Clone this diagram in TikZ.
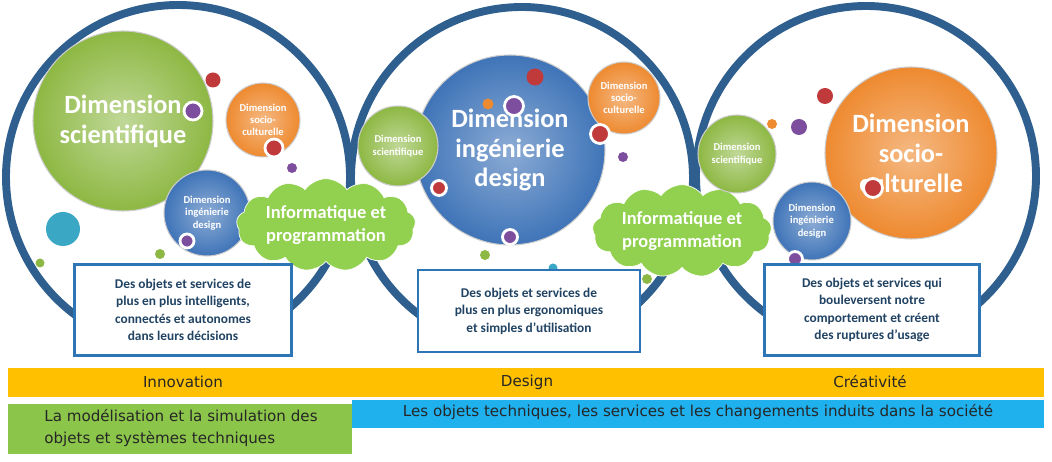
\documentclass[tikz,border=0pt]{standalone}
\usepackage{fontspec}
\setmainfont{Carlito}
\newfontfamily\barfont{DejaVu Sans}
\usetikzlibrary{shapes.symbols}
\definecolor{ringblue}{HTML}{2F5F8E}
\definecolor{cgreen}{HTML}{8DB843}
\definecolor{corange}{HTML}{EE8A30}
\definecolor{cblue}{HTML}{3F74B8}
\definecolor{cred}{HTML}{C0393B}
\definecolor{cpurple}{HTML}{7E4E9E}
\definecolor{ccyan}{HTML}{3AA7C5}
\definecolor{cloudgreen}{HTML}{92D050}
\definecolor{boxblue}{HTML}{2E75B6}
\definecolor{barYellow}{HTML}{FFC000}
\definecolor{barBlue}{HTML}{1FB0EE}
\definecolor{barGreen}{HTML}{8BC64A}
\newcommand{\px}[1]{#1*0.02cm}
\begin{document}
\begin{tikzpicture}[x=0.02cm, y=-0.02cm,
    ring/.style={draw=ringblue, line width=4.5pt},
    dim/.style={circle, inner sep=0pt, text=white, font=\bfseries, align=center, draw=white!80!black, line width=0.6pt},
    greenball/.style={dim, shade, inner color=cgreen!55!white, outer color=cgreen},
    orangeball/.style={dim, shade, inner color=corange!60!white, outer color=corange},
    blueball/.style={dim, shade, inner color=cblue!60!white, outer color=cblue},
    dot/.style={circle, inner sep=0pt, fill=#1},
    rdot/.style={circle, inner sep=0pt, fill=#1, draw=white, line width=1.6pt},
    bubble/.style={cloud, cloud puffs=13, cloud puff arc=110, aspect=2.4, fill=cloudgreen, draw=white, inner sep=1pt, text=white, font=\bfseries\fontsize{10.5}{13}\selectfont, align=center},
    card/.style={draw=boxblue, line width=1.6pt, fill=white, align=center, font=\bfseries\fontsize{7.6}{10}\selectfont, text=ringblue!70!black},
    bar/.style={inner sep=0pt, anchor=north west},
    bartext/.style={font=\barfont\fontsize{8.6}{12}\selectfont, text=black!85}]
\useasboundingbox (0,0) rectangle (1052,462);

% grands cercles
\draw[ring] (178,177) circle (172);
\draw[ring] (522,178) circle (171);
\draw[ring] (866,176) circle (170);

% cercle 1
\node[greenball, minimum size=\px{180}, font=\bfseries\fontsize{15}{17}\selectfont] (sci1) at (123,121) {Dimension\\scientifique};
\node[orangeball, minimum size=\px{74}, font=\bfseries\fontsize{6}{7}\selectfont] (soc1) at (263,120) {Dimension\\socio-\\culturelle};
\node[blueball, minimum size=\px{86}, font=\bfseries\fontsize{6}{7}\selectfont] (ing1) at (207,213) {Dimension\\ingénierie\\design};
\node[dot=ccyan, minimum size=\px{34}] (d1) at (63,229) {};
\node[dot=cred, minimum size=\px{15}] (d2) at (213,80) {};
\node[dot=cpurple, minimum size=\px{10}] (d3) at (292,168) {};
\node[rdot=cpurple, minimum size=\px{18}] (d4) at (193,111) {};
\node[rdot=cred, minimum size=\px{18}] (d5) at (274,148) {};
\node[rdot=cpurple, minimum size=\px{14}] (d6) at (187,241) {};
\node[dot=cgreen, minimum size=\px{9}] (d7) at (40,263) {};
\node[dot=cgreen, minimum size=\px{10}] (d8) at (160,254) {};
\node[bubble, minimum width=\px{150}, minimum height=\px{74}] (info1) at (326,225) {Informatique et\\programmation};

% cercle 2
\node[blueball, minimum size=\px{190}, font=\bfseries\fontsize{15}{17}\selectfont] (ing2) at (510,150) {Dimension\\ingénierie\\design};
\node[greenball, minimum size=\px{80}, font=\bfseries\fontsize{6}{7}\selectfont] (sci2) at (398,146) {Dimension\\scientifique};
\node[orangeball, minimum size=\px{72}, font=\bfseries\fontsize{6}{7}\selectfont] (soc2) at (624,98) {Dimension\\socio-\\culturelle};
\node[dot=cred, minimum size=\px{17}] (e1) at (535,77) {};
\node[dot=corange, minimum size=\px{11}] (e2) at (488,104) {};
\node[rdot=cpurple, minimum size=\px{19}] (e3) at (514,106) {};
\node[rdot=cred, minimum size=\px{19}] (e4) at (600,134) {};
\node[rdot=cred, minimum size=\px{15}] (e5) at (439,188) {};
\node[rdot=cpurple, minimum size=\px{15}] (e6) at (510,237) {};
\node[dot=cpurple, minimum size=\px{10}] (e7) at (623,157) {};
\node[dot=cgreen, minimum size=\px{10}] (e8) at (485,255) {};
\node[dot=ccyan, minimum size=\px{9}] (e9) at (553,268) {};
\node[dot=cgreen, minimum size=\px{10}] (e10) at (647,279) {};
\node[bubble, minimum width=\px{165}, minimum height=\px{64}] (info2) at (682,231) {Informatique et\\programmation};

% cercle 3
\node[orangeball, minimum size=\px{172}, font=\bfseries\fontsize{15}{17}\selectfont] (soc3) at (911,153) {Dimension\\socio-\\culturelle};
\node[greenball, minimum size=\px{78}, font=\bfseries\fontsize{6}{7}\selectfont] (sci3) at (737,154) {Dimension\\scientifique};
\node[blueball, minimum size=\px{78}, font=\bfseries\fontsize{6}{7}\selectfont] (ing3) at (812,221) {Dimension\\ingénierie\\design};
\node[dot=cred, minimum size=\px{16}] (f1) at (825,96) {};
\node[dot=corange, minimum size=\px{10}] (f2) at (772,124) {};
\node[dot=cpurple, minimum size=\px{16}] (f3) at (799,127) {};
\node[rdot=cred, minimum size=\px{19}] (f4) at (873,188) {};
\node[rdot=cpurple, minimum size=\px{15}] (f5) at (795,259) {};

% cadres
\node[card, minimum width=\px{217}, minimum height=\px{91}] (obj1) at (183,310) {Des objets et services de\\plus en plus intelligents,\\connectés et autonomes\\dans leurs décisions};
\node[card, minimum width=\px{222}, minimum height=\px{82}] (obj2) at (529,311) {Des objets et services de\\plus en plus ergonomiques\\et simples d’utilisation};
\node[card, minimum width=\px{215}, minimum height=\px{91}] (obj3) at (872,310) {Des objets et services qui\\bouleversent notre\\comportement et créent\\des ruptures d’usage};

% bandeaux
\node[bar, fill=barYellow, minimum width=\px{1036}, minimum height=\px{29}] (axe) at (8,368) {};
\node[bartext] (innov) at (183,382) {Innovation};
\node[bartext] (design) at (527,382) {Design};
\node[bartext] (creat) at (870,382) {Créativité};
\node[bar, fill=barBlue, minimum width=\px{692}, minimum height=\px{28}] (soc) at (352,400) {};
\node[bartext] (soctxt) at (698,412) {Les objets techniques, les services et les changements induits dans la société};
\node[bar, fill=barGreen, minimum width=\px{344}, minimum height=\px{50}] (mod) at (8,404) {};
\node[bartext, align=left] (modtxt) at (181,428) {La modélisation et la simulation des\\objets et systèmes techniques};
\end{tikzpicture}
\end{document}
